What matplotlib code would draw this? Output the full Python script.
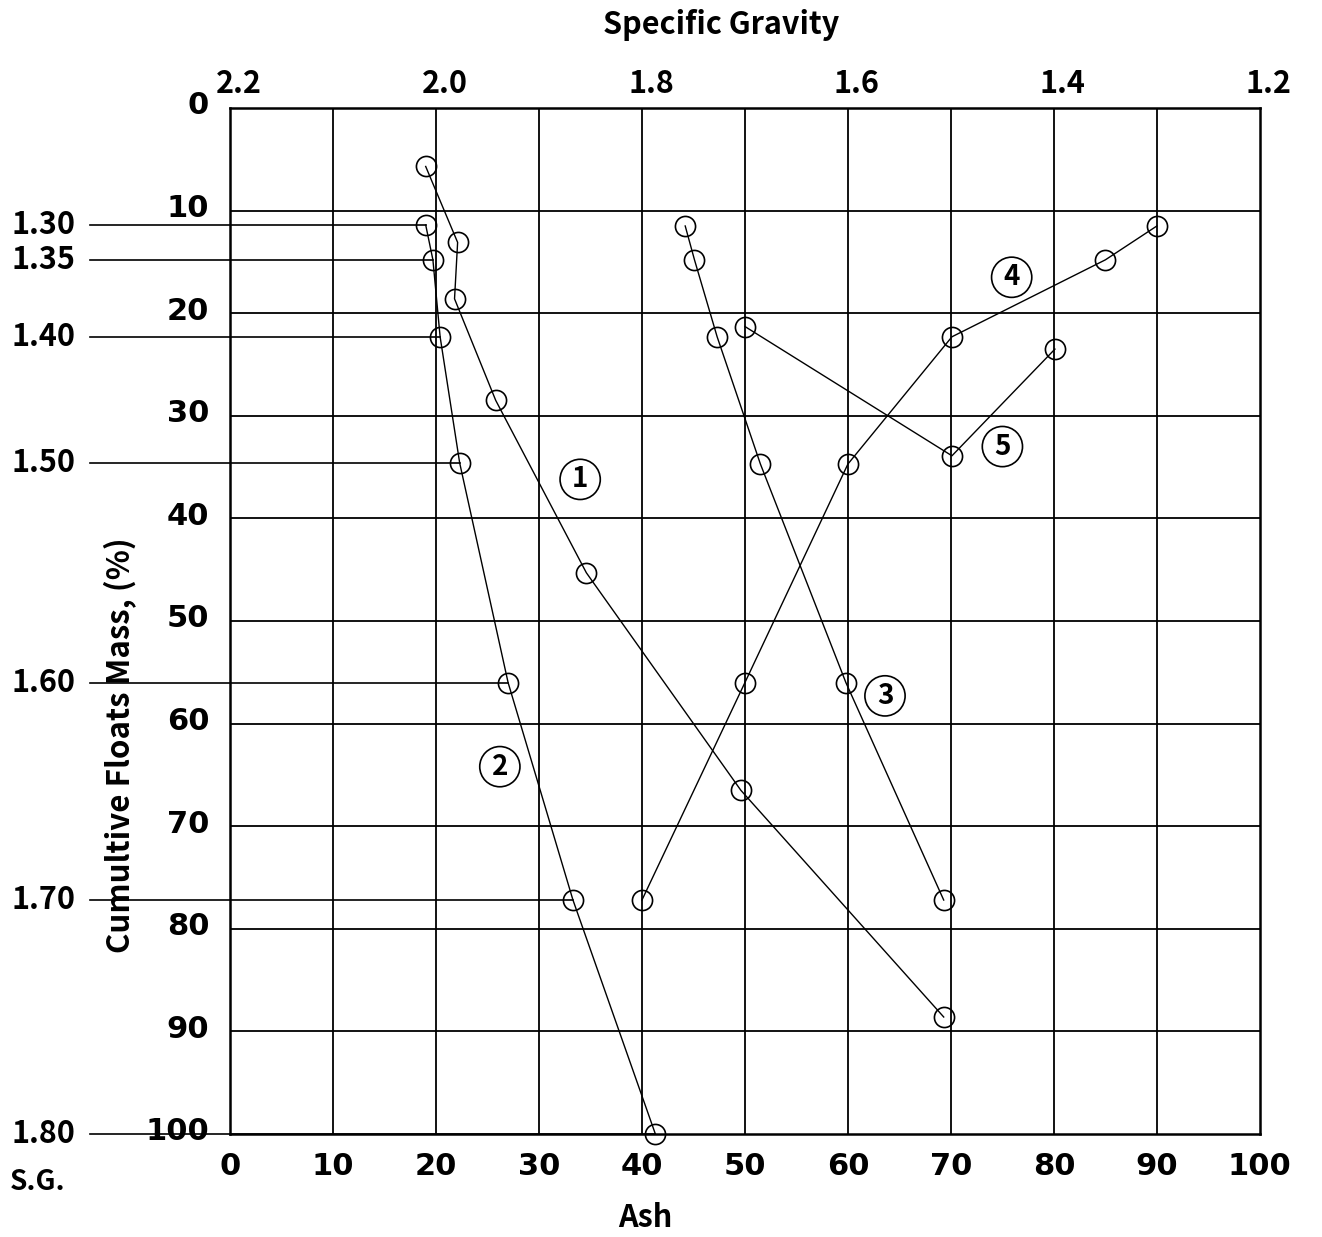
import matplotlib
matplotlib.use("Agg")
import matplotlib.pyplot as plt
import matplotlib.transforms as mtransforms

plt.rcParams['font.family'] = ['Noto Sans CJK JP', 'DejaVu Sans']

# cumulative floats (%) vs ash for each curve
c1_ash = [19.0, 22.1, 21.8, 25.8, 34.6, 49.6, 69.3]
c1_mass = [5.7, 13.1, 18.6, 28.5, 45.3, 66.5, 88.6]

c2_ash = [19.0, 19.7, 20.4, 22.3, 27.0, 33.3, 41.3]
c2_mass = [11.4, 14.8, 22.3, 34.6, 56.0, 77.2, 100.0]

c3_ash = [44.2, 45.1, 47.3, 51.5, 59.8, 69.3]
c3_mass = [11.5, 14.8, 22.3, 34.7, 56.0, 77.2]

c4_ash = [90.0, 85.0, 70.1, 60.0, 50.0, 40.0]
c4_mass = [11.5, 14.8, 22.3, 34.7, 56.0, 77.2]

c5_ash = [50.0, 70.1, 80.1]
c5_mass = [21.3, 33.9, 23.5]

sg_levels = ['1.30', '1.35', '1.40', '1.50', '1.60', '1.70', '1.80']
sg_top = [2.2, 2.0, 1.8, 1.6, 1.4, 1.2]
ticks = list(range(0, 101, 10))

curve_names = ['1', '2', '3', '4', '5']
curve_label_pos = [(34.0, 36.2), (26.2, 64.2), (63.6, 57.3), (75.9, 16.5), (75.0, 33.0)]


def main():
    fig = plt.figure(figsize=(13.22, 12.37), dpi=100)
    ax = fig.add_axes([0.174, 0.0833, 0.779, 0.8294])
    ax.set_xlim(0, 100)
    ax.set_ylim(100, 0)

    # grid
    for t in ticks[1:-1]:
        ax.axvline(t, color='black', lw=1.3, zorder=1)
        ax.axhline(t, color='black', lw=1.3, zorder=1)
    for s in ax.spines.values():
        s.set_linewidth(1.8)

    # horizontal S.G. lines from the left margin to curve 2
    for lab, m, a in zip(sg_levels, c2_mass, c2_ash):
        ax.plot([-13.6, a], [m, m], color='black', lw=1.2, clip_on=False, zorder=2)
    tr = mtransforms.blended_transform_factory(fig.transFigure, ax.transData)
    for lab, m in zip(sg_levels, c2_mass):
        ax.text(11 / 1322, m, lab, transform=tr, ha='left', va='center', fontsize=22,
                fontweight='bold')
    fig.text(10 / 1322, 1 - 1182 / 1237, 'S.G.', ha='left', va='center', fontsize=20,
             fontweight='bold')

    # curves
    style = dict(color='black', lw=1.0, marker='o', ms=14.5, mfc='none', mec='black', mew=1.2, zorder=3)
    for xs, ys in [(c1_ash, c1_mass), (c2_ash, c2_mass), (c3_ash, c3_mass),
                   (c4_ash, c4_mass), (c5_ash, c5_mass)]:
        ax.plot(xs, ys, clip_on=False, **style)

    for name, (x, y) in zip(curve_names, curve_label_pos):
        ax.text(x, y, name, ha='center', va='center', fontsize=20, fontweight='bold', zorder=4,
                bbox=dict(boxstyle='circle,pad=0.22', fc='white', ec='black', lw=1.2))

    # ticks
    ax.tick_params(length=0)
    ax.set_xticks(ticks)
    ax.set_xticklabels([str(t) for t in ticks], fontsize=22, family='DejaVu Sans',
                       fontweight='bold')
    ax.tick_params(axis='x', pad=13)
    ax.set_yticks(ticks)
    ax.set_yticklabels([str(t) for t in ticks], fontsize=22, family='DejaVu Sans',
                       fontweight='bold')
    ax.tick_params(axis='y', pad=15)
    shift = mtransforms.ScaledTranslation(0, 5 / 100, fig.dpi_scale_trans)
    for lbl in ax.get_yticklabels():
        lbl.set_transform(lbl.get_transform() + shift)

    top = ax.secondary_xaxis('top', functions=(lambda x: 2.2 - x / 100, lambda s: (2.2 - s) * 100))
    top.set_xticks(sg_top)
    top.set_xticklabels(['%.1f' % s for s in sg_top], fontsize=22, fontweight='bold')
    top.tick_params(length=0, pad=6)
    rshift = mtransforms.ScaledTranslation(9 / 100, 0, fig.dpi_scale_trans)
    for lbl in top.get_xticklabels():
        lbl.set_transform(lbl.get_transform() + rshift)
    top.spines['top'].set_visible(False)

    fig.text(721 / 1322, 1 - 25 / 1237, 'Specific Gravity', ha='center', va='center',
             fontsize=22, fontweight='bold')
    fig.text(645 / 1322, 1 - 1218 / 1237, 'Ash', ha='center', va='center',
             fontsize=22, fontweight='bold')
    fig.text(120 / 1322, 1 - 745 / 1237, 'Cumultive Floats Mass, (%)', rotation=90,
             ha='center', va='center', fontsize=22.5, fontweight='bold')

    fig.savefig('out.png', dpi=100)


if __name__ == "__main__":
    main()
